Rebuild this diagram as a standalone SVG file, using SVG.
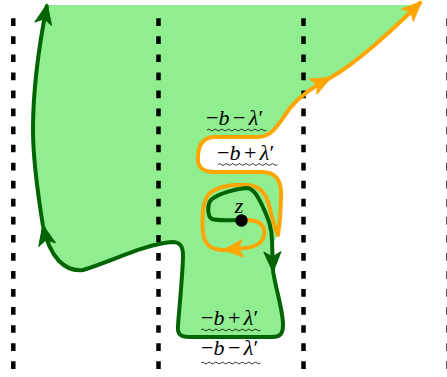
<svg xmlns="http://www.w3.org/2000/svg" xmlns:xlink="http://www.w3.org/1999/xlink" width="447" height="377" viewBox="0 0 447 377">
<style>
.div{stroke:#000;stroke-width:4.5;stroke-dasharray:7.7 10.35;fill:none}
.g{fill:none;stroke:#006400;stroke-width:4;stroke-linejoin:round}
.o{fill:none;stroke:#FFA500;stroke-width:4;stroke-linejoin:round}
.lbl{font-family:"Liberation Serif","Times New Roman",serif;font-size:22px;fill:#000}
.it{font-style:italic}
.wv{fill:none;stroke:#000;stroke-width:0.8}
</style>
<defs>
<marker id="ag" markerUnits="userSpaceOnUse" viewBox="-22 -10 24 20" refX="0" refY="0" markerWidth="24" markerHeight="20" orient="auto">
<path d="M1,0 L-19,-8.5 L-14,0 L-19,8.5 Z" fill="#006400" stroke="#006400" stroke-width="1" stroke-linejoin="round"/>
</marker>
<marker id="ao" markerUnits="userSpaceOnUse" viewBox="-22 -10 24 20" refX="0" refY="0" markerWidth="24" markerHeight="20" orient="auto">
<path d="M1,0 L-19,-8.5 L-14,0 L-19,8.5 Z" fill="#FFA500" stroke="#FFA500" stroke-width="1" stroke-linejoin="round"/>
</marker>
<path id="wave" d="M0,0 q1.65,-1.8 3.3,0 t3.3,0 t3.3,0 t3.3,0 t3.3,0 t3.3,0 t3.3,0 t3.3,0 t3.3,0 t3.3,0 t3.3,0 t3.3,0 t3.3,0 t3.3,0 t3.3,0 t3.3,0 t3.3,0 t3.3,0"/>
</defs>
<g id="region">
<path fill="#90EE90" d="M47,5 L415,5 C388,32 358,62 330,78 C312,87 300,96 290,108 C278,125 272,137 258,137 L215,137 C205,137 199,142 198,155 C197,165 200,172 215,172 L262,172 C275,172 281,180 281,193 C281,205 280,222 278,235 L272,245 L273,270 C276,290 283,310 283,325 C283,334 280,337 272,337 L190,337 C180,337 177,334 178,325 C180,300 183,270 183,255 C183,246 180,242 172,242 C145,244 110,262 83,270 C65,272 50,258 43,226 C38,195 33,160 33,130 C33,85 40,40 47,5 Z"/>
</g>
<g id="dividers">
<line class="div" x1="13.3" y1="18.3" x2="13.3" y2="372"/>
<line class="div" x1="158.5" y1="18.3" x2="158.5" y2="372"/>
<line class="div" x1="303.5" y1="18.3" x2="303.5" y2="372"/>
<line x1="447" y1="18.3" x2="447" y2="372" stroke="#555" stroke-width="2" stroke-dasharray="7.7 10.35"/>
</g>
<g id="connectors">
<path class="o" marker-end="url(#ao)" d="M241,220 C252,220 262,220 264,230 C266,240 258,247 245,248 L224,250"/>
<path class="o" marker-end="url(#ao)" d="M224,250 C210,250 204,244 203,232 C202,218 202,200 210,193 C218,186 235,184 248,185 C260,186 266,193 269,205 C272,218 275,228 278,235 C280,222 281,205 281,193 C281,180 275,172 262,172 L215,172 C200,172 197,165 198,155 C199,142 205,137 215,137 L258,137 C272,137 278,125 290,108 C300,96 312,87 330,78"/>
<path class="o" marker-end="url(#ao)" d="M330,78 C358,62 390,32 421,2"/>
<path class="g" marker-end="url(#ag)" d="M241,220 C228,220 218,221 212,219 C207,216 207,203 212,199 C220,193 236,189 246,188 C254,188 258,197 262,205 C268,218 272,228 272,240 L273,271"/>
<path class="g" marker-end="url(#ag)" d="M273,271 C276,290 283,310 283,325 C283,334 280,337 272,337 L190,337 C180,337 177,334 178,325 C180,300 183,270 183,255 C183,246 180,242 172,242 C145,244 110,262 83,270 C65,272 50,258 43,226"/>
<path class="g" marker-end="url(#ag)" d="M43,226 C38,195 33,160 33,130 C33,85 40,40 47,5"/>
</g>
<g id="point-z">
<circle cx="241.5" cy="220.5" r="6.2" fill="#000"/>
<text class="lbl it" x="239" y="213" text-anchor="middle" font-size="20">z</text>
</g>
<g id="labels">
<text class="lbl" x="206" y="125">−<tspan class="it">b</tspan><tspan dx="3.5">−</tspan><tspan class="it" dx="3.5">λ</tspan>′</text>
<use href="#wave" xlink:href="#wave" x="207" y="130" class="wv"/>
<text class="lbl" x="217" y="160">−<tspan class="it">b</tspan><tspan dx="3.5">+</tspan><tspan class="it" dx="3.5">λ</tspan>′</text>
<use href="#wave" xlink:href="#wave" x="218" y="164.5" class="wv"/>
<text class="lbl" x="201" y="325">−<tspan class="it">b</tspan><tspan dx="3.5">+</tspan><tspan class="it" dx="3.5">λ</tspan>′</text>
<use href="#wave" xlink:href="#wave" x="201" y="330" class="wv"/>
<text class="lbl" x="201" y="355">−<tspan class="it">b</tspan><tspan dx="3.5">−</tspan><tspan class="it" dx="3.5">λ</tspan>′</text>
<use href="#wave" xlink:href="#wave" x="201" y="363" class="wv"/>
</g>
</svg>
